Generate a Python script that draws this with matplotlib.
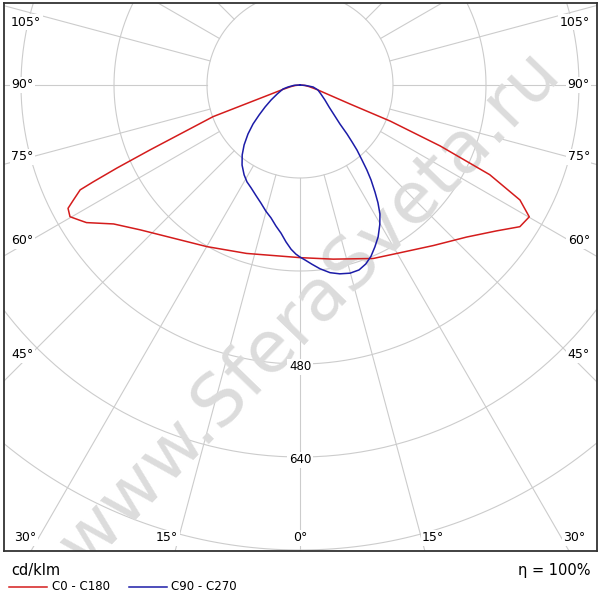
import numpy as np
import matplotlib.pyplot as plt
from matplotlib.lines import Line2D

# C0 - C180 plane (red), angle from nadir in degrees, cd/klm
red_c0_ang = [0, 10.8, 22.9, 30.8, 39.7, 47.6, 53.4, 57.2, 60.1, 62.4, 64.7, 66.5, 68.2, 69.2, 75, 80, 85, 90]
red_c0_val = [297, 305, 324, 336, 359, 388, 421, 450, 455, 427, 361, 263, 167, 92, 30, 16, 8, 0]
red_c180_ang = [0, 17.6, 30, 39.6, 47.8, 53.3, 57.2, 58.5, 60.2, 62, 63.1, 64.5, 64.9, 65.6, 66.6, 70, 75.6, 80, 84, 90]
red_c180_val = [297, 304, 321, 342, 371, 400, 437, 445, 456, 452, 437, 419, 393, 346, 281, 159, 30, 16, 8, 0]

# C90 - C270 plane (blue)
blue_c90_ang = [0, 1.6, 3.8, 6.2, 9.1, 11.9, 14.9, 17.7, 20.2, 22.5, 24.8, 27.2, 29.7, 31.8, 33.5, 35.0,
                36.8, 38.2, 39.6, 41.2, 42.4, 43.8, 45.7, 49.7, 52.8, 59.0, 66.8, 74.5, 81.3, 85.2, 90]
blue_c90_val = [296, 301, 309, 318, 327, 332, 335, 334, 328, 319, 307, 294, 277, 261, 243, 225,
                204, 186, 167, 149, 133, 117, 96, 74, 63, 50, 39, 32, 23, 10, 0]
blue_c270_ang = [0, 1.4, 3.1, 5.1, 7.3, 9.7, 12.3, 15.1, 18.3, 21.6, 25.4, 28.7, 31.9, 35.9, 39.6, 43.0,
                 46.7, 50.3, 53.8, 57.8, 62.6, 68.6, 76.8, 80.5, 87.1, 90]
blue_c270_val = [296, 291, 283, 271, 257, 246, 234, 225, 214, 205, 196, 190, 182, 170, 156, 141,
                 123, 105, 87, 71, 56, 42, 30, 21, 10, 0]

rings = [160, 320, 480, 640, 800, 960]
ring_labels = [480, 640]
spoke_angles = np.arange(0, 360, 15)

K = 93 / 160.0  # pixels per cd/klm
CX, CY = 300, 85  # pole position in pixels


def px(x, y):
    # pixel position -> data coordinates
    return (x - CX) / K, -(y - CY) / K


def plane(ang_left, val_left, ang_right, val_right):
    al = np.radians(ang_left)[::-1]
    vl = np.array(val_left)[::-1]
    ar = np.radians(ang_right)
    vr = np.array(val_right)
    x = np.concatenate([-vl * np.sin(al), vr * np.sin(ar)])
    y = np.concatenate([-vl * np.cos(al), -vr * np.cos(ar)])
    return x, y


fig = plt.figure(figsize=(6, 6), dpi=100)
ax = fig.add_axes([4 / 600, 49 / 600, 593 / 600, 548 / 600])
x0, y1 = px(4, 3)
x1, y0 = px(597, 551)
ax.set_xlim(x0, x1)
ax.set_ylim(y0, y1)
ax.set_xticks([])
ax.set_yticks([])
for s in ax.spines.values():
    s.set_color('#333333')
    s.set_linewidth(1.3)

grid_c = '#cccccc'
t = np.linspace(0, 2 * np.pi, 400)
for r in rings:
    ax.plot(r * np.sin(t), r * np.cos(t), color=grid_c, lw=0.8, zorder=1)
for a in np.radians(spoke_angles):
    ax.plot([160 * np.sin(a), 1400 * np.sin(a)], [-160 * np.cos(a), -1400 * np.cos(a)],
            color=grid_c, lw=0.8, zorder=1)

# watermark
wx, wy = px(310, 308)
ax.text(wx, wy, 'www.SferaSveta.ru', rotation=46, fontsize=52, color='#dcdcdc',
        ha='center', va='center', rotation_mode='anchor', zorder=2, clip_on=True)

rx, ry = plane(red_c180_ang, red_c180_val, red_c0_ang, red_c0_val)
bx, by = plane(blue_c270_ang, blue_c270_val, blue_c90_ang, blue_c90_val)
ax.plot(rx, ry, color='#d41c1c', lw=1.1, zorder=4)
ax.plot(bx, by, color='#1c1ca8', lw=1.1, zorder=4)

box = dict(facecolor='white', edgecolor='none', pad=1)
fs = 9
for txt, xp, yp in [('105°', 11, 22), ('90°', 11, 85), ('75°', 11, 157), ('60°', 11, 241), ('45°', 11, 355)]:
    ax.text(*px(xp, yp), txt, ha='left', va='center', fontsize=fs, bbox=box, zorder=5)
for txt, xp, yp in [('105°', 590, 22), ('90°', 590, 85), ('75°', 590, 157), ('60°', 590, 241), ('45°', 590, 355)]:
    ax.text(*px(xp, yp), txt, ha='right', va='center', fontsize=fs, bbox=box, zorder=5)
for txt, xp in [('30°', 25), ('15°', 167), ('0°', 300), ('15°', 433), ('30°', 574)]:
    ax.text(*px(xp, 538), txt, ha='center', va='center', fontsize=fs, bbox=box, zorder=5)
for r in ring_labels:
    ax.text(0, -r - 5, str(r), ha='center', va='center', fontsize=8.5, bbox=box, zorder=5)

# legend below the frame
fig.text(11 / 600, 1 - 571 / 600, 'cd/klm', ha='left', va='center', fontsize=10.5)
fig.text(590 / 600, 1 - 571 / 600, 'η = 100%', ha='right', va='center', fontsize=10.5)
fig.add_artist(Line2D([9 / 600, 47 / 600], [1 - 587 / 600] * 2, color='#d41c1c', lw=1.1))
fig.text(52 / 600, 1 - 587 / 600, 'C0 - C180', ha='left', va='center', fontsize=8.5)
fig.add_artist(Line2D([129 / 600, 167 / 600], [1 - 587 / 600] * 2, color='#1c1ca8', lw=1.1))
fig.text(171 / 600, 1 - 587 / 600, 'C90 - C270', ha='left', va='center', fontsize=8.5)

fig.savefig('out.png', dpi=100, facecolor='white')
